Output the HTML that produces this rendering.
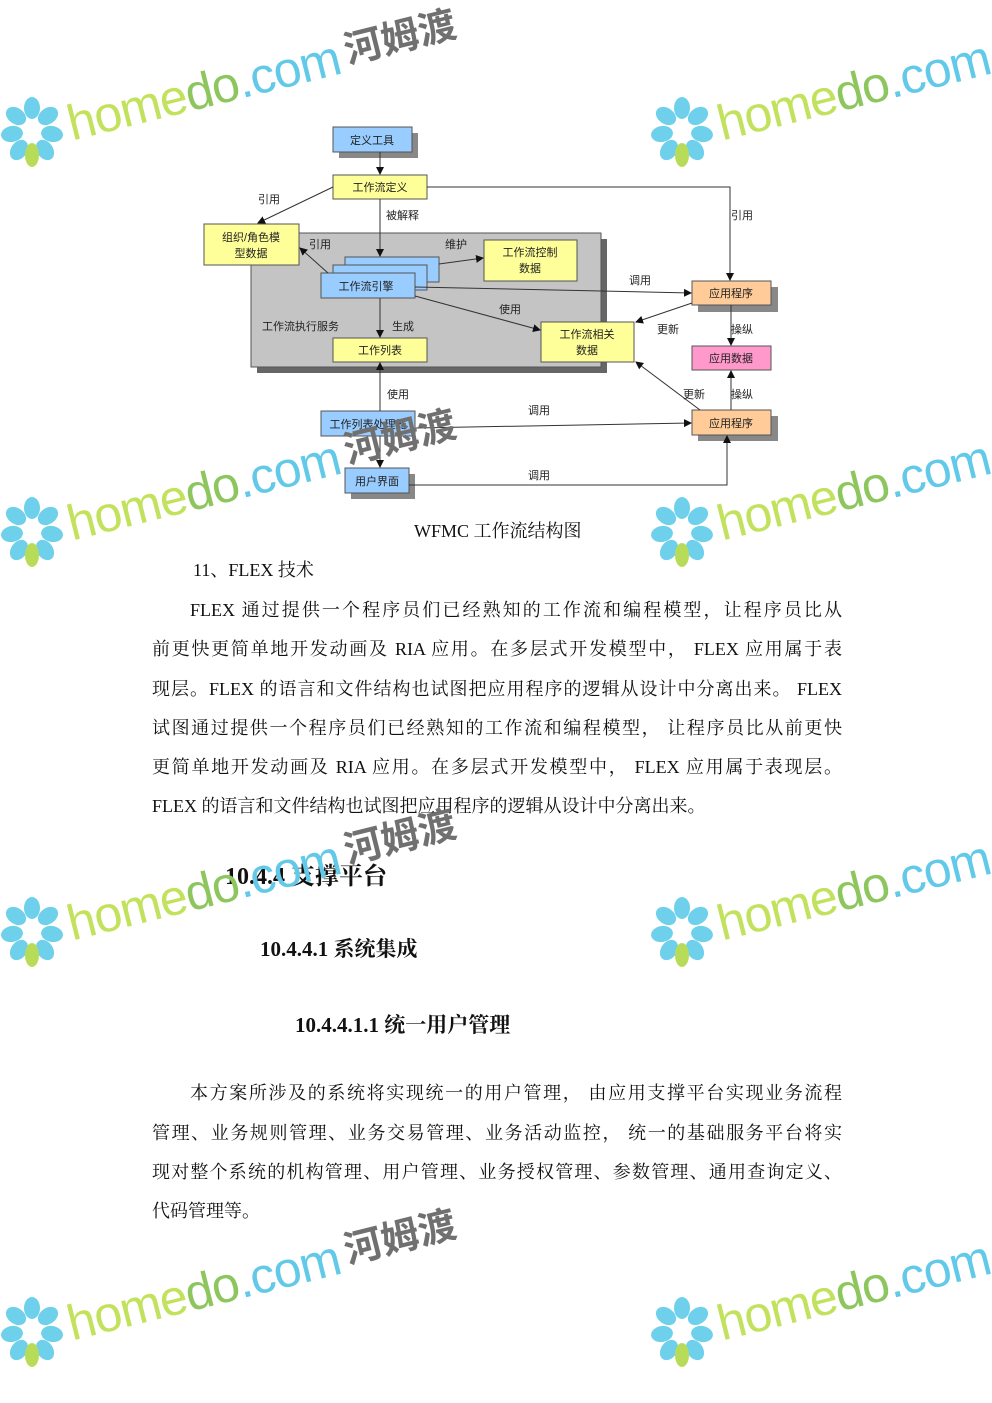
<!DOCTYPE html>
<html><head><meta charset="utf-8">
<style>
html,body{margin:0;padding:0;background:#fff;}
body{width:992px;height:1403px;position:relative;overflow:hidden;font-family:"Liberation Serif","Noto Serif CJK SC",serif;color:#111;}
.t{position:absolute;white-space:nowrap;font-size:18px;line-height:22px;}
.j{position:absolute;left:152px;width:690px;font-size:18px;line-height:22px;text-align:justify;text-align-last:justify;white-space:nowrap;}
.h{position:absolute;white-space:nowrap;font-family:"Liberation Serif","Noto Serif CJK SC",serif;font-weight:bold;}
svg{position:absolute;left:0;top:0;}
</style></head><body>

<svg width="992" height="1403" viewBox="0 0 992 1403" style="font-family:'Liberation Sans','Noto Sans CJK SC',sans-serif;">
<defs>
<marker id="a" markerWidth="8" markerHeight="8" refX="7" refY="4" orient="auto" markerUnits="userSpaceOnUse"><path d="M0,0 L8,4 L0,8 z" fill="#111"/></marker>
</defs>
<rect x="257" y="239" width="350" height="134" fill="#666"/>
<rect x="251" y="233" width="350" height="134" fill="#c4c4c4" stroke="#555" stroke-width="1"/>
<g font-size="11" fill="#222" text-anchor="middle">
<g fill="#888">
<rect x="339" y="133" width="79" height="25"/>
<rect x="698" y="287" width="80" height="25"/>
<rect x="698" y="416" width="80" height="25"/>
<rect x="351" y="474" width="64" height="25"/>
</g>
<rect x="333" y="127" width="79" height="25" fill="#99ccff" stroke="#555"/><text x="372" y="144">定义工具</text>
<rect x="333" y="175" width="94" height="24" fill="#ffff99" stroke="#555"/><text x="380" y="191">工作流定义</text>
<rect x="204" y="224" width="95" height="41" fill="#ffff99" stroke="#555"/><text x="251" y="241">组织/角色模</text><text x="251" y="257">型数据</text>
<rect x="345" y="257" width="94" height="25" fill="#99ccff" stroke="#555"/>
<rect x="333" y="265" width="94" height="25" fill="#99ccff" stroke="#555"/>
<rect x="321" y="273" width="94" height="25" fill="#99ccff" stroke="#555"/><text x="366" y="290">工作流引擎</text>
<rect x="484" y="240" width="93" height="41" fill="#ffff99" stroke="#555"/><text x="530" y="256">工作流控制</text><text x="530" y="272">数据</text>
<rect x="692" y="281" width="79" height="24" fill="#ffcc99" stroke="#555"/><text x="731" y="297">应用程序</text>
<rect x="541" y="322" width="93" height="40" fill="#ffff99" stroke="#555"/><text x="587" y="338">工作流相关</text><text x="587" y="354">数据</text>
<rect x="692" y="346" width="79" height="24" fill="#ff99cc" stroke="#555"/><text x="731" y="362">应用数据</text>
<rect x="333" y="338" width="94" height="24" fill="#ffff99" stroke="#555"/><text x="380" y="354">工作列表</text>
<rect x="321" y="411" width="94" height="25" fill="#99ccff" stroke="#555"/><text x="368" y="428">工作列表处理器</text>
<rect x="692" y="410" width="79" height="25" fill="#ffcc99" stroke="#555"/><text x="731" y="427">应用程序</text>
<rect x="345" y="468" width="64" height="25" fill="#99ccff" stroke="#555"/><text x="377" y="485">用户界面</text>
</g>
<g stroke="#333" stroke-width="1" fill="none" marker-end="url(#a)">
<line x1="380" y1="152" x2="380" y2="174"/>
<line x1="333" y1="187" x2="258" y2="223"/>
<polyline points="427,187 730,187 730,280"/>
<line x1="380" y1="199" x2="380" y2="256"/>
<line x1="328" y1="273" x2="300" y2="248"/>
<line x1="439" y1="264" x2="483" y2="258"/>
<line x1="415" y1="287" x2="691" y2="293"/>
<line x1="415" y1="296" x2="540" y2="330"/>
<line x1="380" y1="298" x2="380" y2="337"/>
<line x1="692" y1="303" x2="636" y2="322"/>
<line x1="731" y1="305" x2="731" y2="345"/>
<line x1="380" y1="411" x2="380" y2="363"/>
<line x1="415" y1="428" x2="691" y2="423"/>
<line x1="380" y1="436" x2="380" y2="467"/>
<line x1="700" y1="410" x2="636" y2="362"/>
<line x1="731" y1="410" x2="731" y2="371"/>
<polyline points="409,485 727,485 727,436"/>
</g>
<g font-size="11" fill="#222">
<text x="258" y="203">引用</text><text x="386" y="219">被解释</text><text x="731" y="219">引用</text>
<text x="309" y="248">引用</text><text x="445" y="248">维护</text><text x="629" y="284">调用</text>
<text x="499" y="313">使用</text><text x="262" y="330">工作流执行服务</text><text x="392" y="330">生成</text>
<text x="657" y="333">更新</text><text x="731" y="333">操纵</text>
<text x="387" y="398">使用</text><text x="683" y="398">更新</text><text x="731" y="398">操纵</text>
<text x="528" y="414">调用</text><text x="528" y="479">调用</text>
</g>
</svg>

<div class="t" style="left:414px;top:520px;">WFMC 工作流结构图</div>
<div class="t" style="left:193px;top:559px;">11、FLEX 技术</div>
<div class="j" style="top:599px;padding-left:38px;width:652px;">FLEX 通过提供一个程序员们已经熟知的工作流和编程模型，让程序员比从</div>
<div class="j" style="top:638px;">前更快更简单地开发动画及 RIA 应用。在多层式开发模型中， FLEX 应用属于表</div>
<div class="j" style="top:678px;">现层。FLEX 的语言和文件结构也试图把应用程序的逻辑从设计中分离出来。 FLEX</div>
<div class="j" style="top:717px;">试图通过提供一个程序员们已经熟知的工作流和编程模型， 让程序员比从前更快</div>
<div class="j" style="top:756px;">更简单地开发动画及 RIA 应用。在多层式开发模型中， FLEX 应用属于表现层。</div>
<div class="t" style="left:152px;top:795px;">FLEX 的语言和文件结构也试图把应用程序的逻辑从设计中分离出来。</div>
<div class="h" style="left:225px;top:856px;font-size:24px;">10.4.4 支撑平台</div>
<div class="h" style="left:260px;top:933px;font-size:21px;">10.4.4.1 系统集成</div>
<div class="h" style="left:295px;top:1009px;font-size:21px;">10.4.4.1.1 统一用户管理</div>
<div class="j" style="top:1082px;padding-left:38px;width:652px;">本方案所涉及的系统将实现统一的用户管理， 由应用支撑平台实现业务流程</div>
<div class="j" style="top:1122px;">管理、业务规则管理、业务交易管理、业务活动监控， 统一的基础服务平台将实</div>
<div class="j" style="top:1161px;">现对整个系统的机构管理、用户管理、业务授权管理、参数管理、通用查询定义、</div>
<div class="t" style="left:152px;top:1200px;">代码管理等。</div>

<svg width="992" height="1403" viewBox="0 0 992 1403" style="font-family:'Liberation Sans','Noto Sans CJK SC',sans-serif;">
<defs>
<g id="wm">
<g fill="#6fd0ec">
<ellipse cx="0" cy="-20" rx="8" ry="11"/>
<ellipse cx="16" cy="-12" rx="8" ry="11" transform="rotate(55 16 -12)"/>
<ellipse cx="-16" cy="-12" rx="8" ry="11" transform="rotate(-55 -16 -12)"/>
<ellipse cx="20" cy="6" rx="8" ry="11" transform="rotate(100 20 6)"/>
<ellipse cx="-20" cy="6" rx="8" ry="11" transform="rotate(-100 -20 6)"/>
<ellipse cx="13" cy="22" rx="8" ry="11" transform="rotate(145 13 22)"/>
<ellipse cx="-13" cy="22" rx="8" ry="11" transform="rotate(-145 -13 22)"/>
</g>
<ellipse cx="0" cy="27" rx="7" ry="12" fill="#b8dc5a"/>
<g transform="rotate(-14)">
<text x="36" y="22" font-size="50" fill="#c2e25e" letter-spacing="-1">home<tspan fill="#8cc65c">do</tspan><tspan fill="#62c9e8">.com</tspan></text>
<text x="322" y="14" font-size="38" font-weight="bold" fill="#707070">河姆渡</text>
</g>
</g>
</defs>
<use href="#wm" x="32" y="128"/>
<use href="#wm" x="682" y="128"/>
<use href="#wm" x="32" y="528"/>
<use href="#wm" x="682" y="528"/>
<use href="#wm" x="32" y="928"/>
<use href="#wm" x="682" y="928"/>
<use href="#wm" x="32" y="1328"/>
<use href="#wm" x="682" y="1328"/>
</svg>
</body></html>
